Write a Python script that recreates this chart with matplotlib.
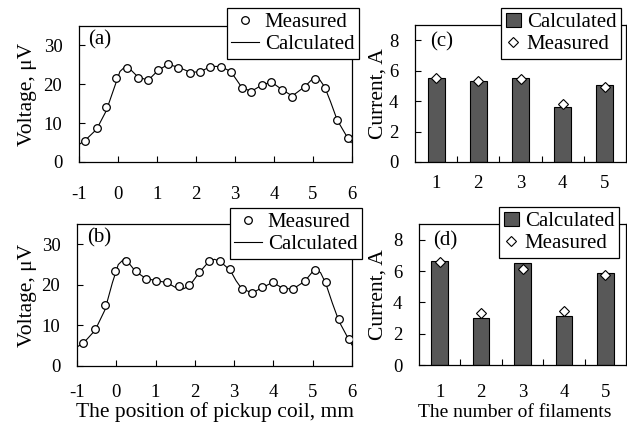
import numpy as np
import matplotlib
matplotlib.use('Agg')
import matplotlib.pyplot as plt

plt.rcParams['font.family'] = ['Liberation Serif', 'DejaVu Serif']
plt.rcParams['axes.linewidth'] = 0.9
plt.rcParams['axes.unicode_minus'] = False

# (a) measured / calculated voltage profile
a_meas_x = [-0.85, -0.54, -0.30, -0.04, 0.22, 0.51, 0.77, 1.03, 1.28, 1.55, 1.85, 2.11, 2.37,
            2.63, 2.89, 3.18, 3.42, 3.69, 3.93, 4.21, 4.47, 4.79, 5.04, 5.30, 5.62, 5.90]
a_meas_y = [5.4, 8.7, 14.2, 21.7, 24.3, 21.7, 21.0, 23.7, 25.3, 24.3, 23.0, 23.2, 24.5,
            24.5, 23.2, 19.0, 18.1, 19.8, 20.7, 18.5, 16.8, 19.3, 21.3, 19.0, 10.7, 6.3]
a_calc_x = [-1.0, -0.85, -0.55, -0.3, -0.1, 0.05, 0.2, 0.35, 0.5, 0.77, 1.03, 1.28, 1.55, 1.85,
            2.11, 2.37, 2.63, 2.89, 3.05, 3.18, 3.42, 3.69, 3.93, 4.21, 4.47, 4.79, 5.04, 5.15,
            5.30, 5.45, 5.62, 5.90, 5.98]
a_calc_y = [4.5, 5.5, 8.4, 13.2, 19.0, 23.3, 24.7, 23.5, 22.0, 21.0, 23.6, 25.1, 24.4, 23.1,
            23.2, 24.6, 24.6, 23.3, 21.0, 19.1, 18.2, 19.8, 20.6, 18.6, 17.0, 19.4, 21.9, 21.5,
            19.3, 15.5, 10.8, 6.0, 5.0]

# (b)
b_meas_x = [-0.84, -0.54, -0.29, -0.04, 0.24, 0.49, 0.75, 1.02, 1.28, 1.59, 1.86, 2.11, 2.37,
            2.64, 2.90, 3.19, 3.46, 3.71, 3.98, 4.25, 4.50, 4.80, 5.06, 5.33, 5.67, 5.93]
b_meas_y = [5.6, 9.2, 15.0, 23.3, 25.8, 23.5, 21.5, 21.0, 20.8, 19.6, 19.9, 23.1, 25.9,
            25.9, 23.9, 19.0, 18.1, 19.4, 20.7, 19.0, 19.0, 21.0, 23.6, 20.7, 11.5, 6.6]
b_calc_x = [-1.0, -0.84, -0.54, -0.29, -0.1, 0.05, 0.22, 0.35, 0.49, 0.75, 1.02, 1.28, 1.5, 1.7,
            1.86, 2.11, 2.37, 2.5, 2.64, 2.90, 3.05, 3.19, 3.46, 3.71, 3.98, 4.25, 4.50, 4.80,
            5.06, 5.2, 5.33, 5.5, 5.67, 5.93, 6.0]
b_calc_y = [4.7, 5.6, 8.8, 13.8, 20.5, 25.0, 26.6, 25.0, 23.3, 21.6, 21.0, 20.6, 19.4, 19.0,
            19.7, 23.0, 25.9, 26.3, 25.8, 23.6, 21.0, 19.1, 18.0, 19.3, 20.6, 19.1, 19.0, 20.9,
            24.0, 23.0, 20.4, 15.5, 11.0, 6.3, 5.2]

# (c), (d) filament currents
filaments = [1, 2, 3, 4, 5]
c_calc = [5.55, 5.3, 5.55, 3.6, 5.05]
c_meas = [5.55, 5.35, 5.45, 3.8, 4.95]
d_calc = [6.65, 3.0, 6.5, 3.1, 5.85]
d_meas = [6.55, 3.35, 6.15, 3.45, 5.75]

W, H = 627, 426
fig = plt.figure(figsize=(6.27, 4.26), dpi=100)


def box(l, t, r, b):
    return fig.add_axes([l / W, 1 - b / H, (r - l) / W, (b - t) / H])


ax_a = box(79, 26, 352, 162)
ax_b = box(77, 224, 352, 366)
ax_c = box(415, 25, 626, 162)
ax_d = box(419, 224, 626, 365)

tick_fs = 13.5
lab_fs = 15.5
leg_fs = 15


def style(ax, xpad):
    ax.tick_params(direction='in', length=4, width=0.8, labelsize=tick_fs, color='black')
    ax.tick_params(axis='x', pad=xpad)
    ax.tick_params(axis='y', pad=12)
    for s in ax.spines.values():
        s.set_color('black')


for ax, mx, my, cx, cy, lbl, pad, ylx in [
        (ax_a, a_meas_x, a_meas_y, a_calc_x, a_calc_y, '(a)', 17, -0.154),
        (ax_b, b_meas_x, b_meas_y, b_calc_x, b_calc_y, '(b)', 13, -0.145)]:
    ax.plot(cx, cy, color='black', lw=0.8, label='Calculated', zorder=2)
    ax.plot(mx, my, ls='none', marker='o', ms=5.5, mfc='white', mec='black', mew=0.9,
            label='Measured', zorder=3)
    ax.set_xlim(-1, 6)
    ax.set_ylim(0, 35)
    ax.set_xticks(range(-1, 7))
    ax.set_yticks([0, 10, 20, 30])
    style(ax, pad)
    ax.set_ylabel('Voltage, μV', fontsize=lab_fs)
    ax.yaxis.set_label_coords(ylx, 0.5)
    ax.text(0.035, 0.9, lbl, transform=ax.transAxes, fontsize=leg_fs, va='center', ha='left')

for ax, calc, meas, lbl, pad, ylx in [(ax_c, c_calc, c_meas, '(c)', 9, -0.128),
                                      (ax_d, d_calc, d_meas, '(d)', 14, -0.15)]:
    ax.bar(filaments, calc, width=0.4, color='#585858', edgecolor='black', lw=0.8,
           label='Calculated', zorder=2)
    ax.plot(filaments, meas, ls='none', marker='D', ms=5, mfc='white', mec='black', mew=0.8,
            label='Measured', zorder=3)
    ax.set_xlim(0.5, 5.5)
    ax.set_ylim(0, 9)
    ax.set_xticks(filaments)
    ax.set_xticks([1.5, 2.5, 3.5, 4.5], minor=True)
    ax.set_yticks([0, 2, 4, 6, 8])
    style(ax, pad)
    ax.tick_params(axis='x', which='major', length=0)
    ax.tick_params(axis='x', which='minor', direction='in', length=4, width=0.8)
    ax.set_ylabel('Current, A', fontsize=lab_fs)
    ax.yaxis.set_label_coords(ylx, 0.5)
    ax.text(0.07, 0.88, lbl, transform=ax.transAxes, fontsize=leg_fs, va='center', ha='left')

ax_b.set_xlabel('The position of pickup coil, mm', fontsize=lab_fs, labelpad=1)
ax_d.set_xlabel('The number of filaments', fontsize=14)
ax_d.xaxis.set_label_coords(0.464, -0.28)


def legend(ax, order, right, top, hl):
    h, l = ax.get_legend_handles_labels()
    idx = [l.index(o) for o in order]
    leg = ax.legend([h[i] for i in idx], [l[i] for i in idx], loc='upper right',
                    bbox_to_anchor=(right / W, 1 - top / H), bbox_transform=fig.transFigure,
                    borderaxespad=0, fontsize=leg_fs, frameon=True, fancybox=False,
                    edgecolor='black', framealpha=1, borderpad=0.22, labelspacing=0.12,
                    handlelength=hl, handletextpad=0.3, handleheight=0.7)
    leg.get_frame().set_linewidth(0.9)
    leg.set_zorder(10)
    return leg


legend(ax_a, ['Measured', 'Calculated'], 359, 8, 1.3)
legend(ax_b, ['Measured', 'Calculated'], 362, 208, 1.3)
legend(ax_c, ['Calculated', 'Measured'], 621, 8, 0.7)
legend(ax_d, ['Calculated', 'Measured'], 619, 207, 0.7)

fig.savefig('out.png', dpi=100)
